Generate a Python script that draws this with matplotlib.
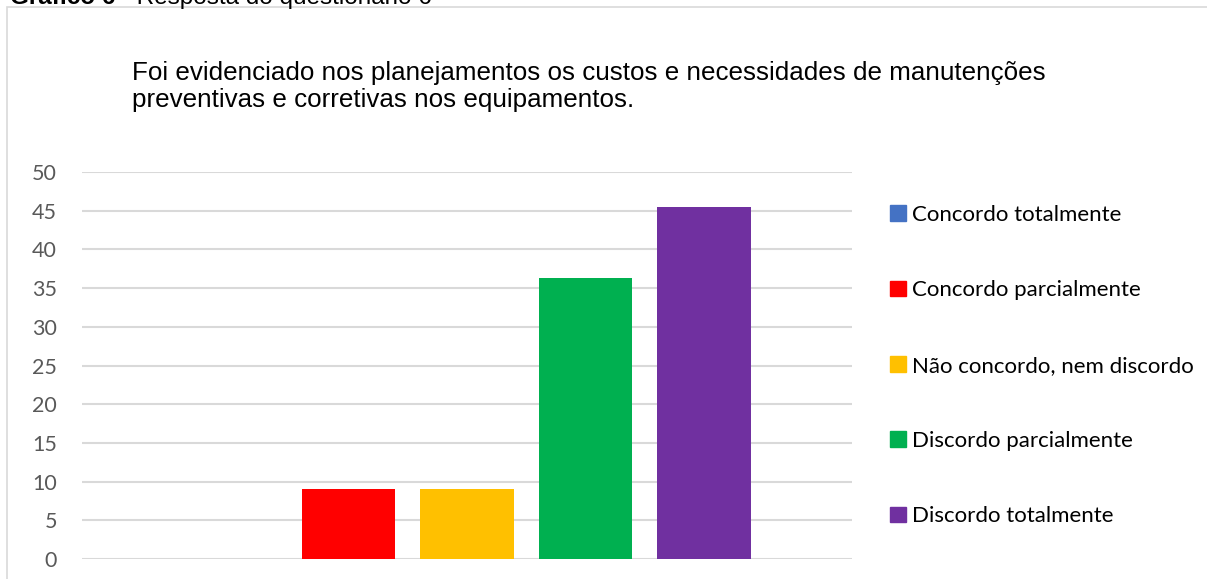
import matplotlib.pyplot as plt
from matplotlib.patches import Patch, Rectangle

categories = ['Concordo totalmente', 'Concordo parcialmente', 'Não concordo, nem discordo',
              'Discordo parcialmente', 'Discordo totalmente']
values = [0, 9.09, 9.09, 36.36, 45.45]
colors = ['#4472c4', '#ff0000', '#ffc000', '#00b050', '#7030a0']
yticks = [0, 5, 10, 15, 20, 25, 30, 35, 40, 45, 50]
title_lines = ['Foi evidenciado nos planejamentos os custos e necessidades de manutenções',
               'preventivas e corretivas nos equipamentos.']

titleFont = {'family': 'Liberation Sans', 'size': 18.75}
ticksFont = {'family': 'Lato', 'size': 15.5}
legendFont = {'family': 'Lato', 'size': 16}

fig = plt.figure(figsize=(12.07, 5.79), dpi=100)
W, H = 1207, 579

# outer chart border (light grey)
fig.patches.append(Rectangle((7 / W, -0.1), 1.1, 1 - 7 / H + 0.1, transform=fig.transFigure,
                             fill=False, edgecolor='#d9d9d9', lw=1.2))

# caption cut at the top
cap = fig.text(10 / W, 1 - 4 / H, 'Gráfico 6', fontweight='bold', va='baseline', fontsize=17.5,
               family='Liberation Sans')
fig.canvas.draw()
bb = cap.get_window_extent()
fig.text(bb.x1 / W, 1 - 4 / H, ' - Resposta do questionário 6', va='baseline', fontsize=17.5,
         family='Liberation Sans')

ax = fig.add_axes([82 / W, 1 - 559 / H, (852 - 82) / W, (559 - 172) / H])
x = range(len(categories))
ax.bar(x, values, width=0.79, color=colors, zorder=3)
ax.set_xlim(-1.25, 5.25)
ax.set_ylim(0, 50)
ax.set_yticks(yticks)
ax.set_xticks([])
ax.grid(axis='y', color='#d9d9d9', lw=1.5, zorder=0)
for s in ax.spines.values():
    s.set_visible(False)
ax.tick_params(axis='y', length=0, pad=18, labelcolor='#595959')
for lab in ax.get_yticklabels():
    lab.set_fontfamily(ticksFont['family'])
    lab.set_fontsize(ticksFont['size'])

fig.text(132 / W, 1 - 80 / H, title_lines[0], va='baseline', ha='left', **titleFont)
fig.text(132 / W, 1 - 107 / H, title_lines[1], va='baseline', ha='left', **titleFont)

handles = [Patch(color=c, label=l) for c, l in zip(colors, categories)]
fig.legend(handles=handles, loc='upper left', bbox_to_anchor=(870 / W, 1 - 185 / H),
           frameon=False, handlelength=0.7, handleheight=0.7, handletextpad=0.3,
           labelspacing=2.49, prop=legendFont)

fig.savefig('out.png', dpi=100)
